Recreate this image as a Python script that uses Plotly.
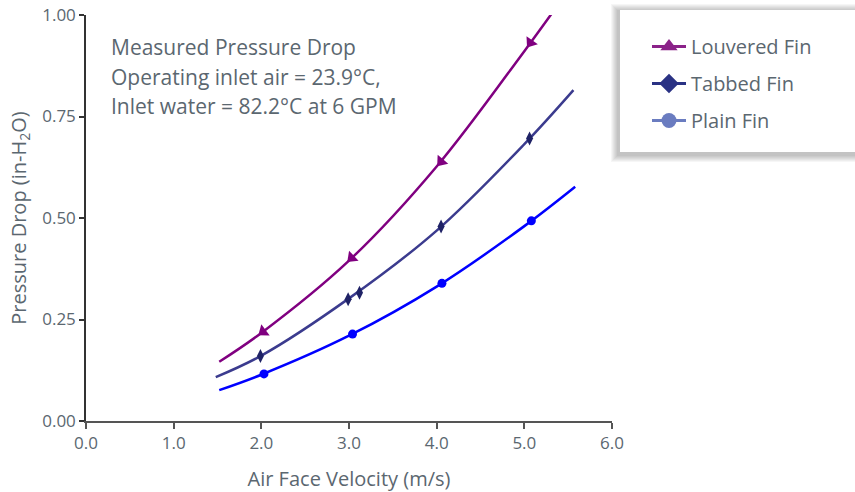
import plotly.graph_objects as go

# ---- data ----
series_names = ["Louvered Fin", "Tabbed Fin", "Plain Fin"]

# measured points (markers)
louv_x = [2.02, 3.03, 4.05, 5.07]
louv_y = [0.220, 0.402, 0.639, 0.932]
tab_x = [1.99, 2.99, 3.12, 4.05, 5.06]
tab_y = [0.160, 0.300, 0.316, 0.479, 0.696]
plain_x = [2.03, 3.04, 4.06, 5.08]
plain_y = [0.116, 0.214, 0.339, 0.493]

# fitted curves
louv_fit_x = [1.52, 2.0, 3.0, 4.0, 5.0, 5.4]
louv_fit_y = [0.146, 0.217, 0.395, 0.627, 0.911, 1.03]
tab_fit_x = [1.48, 2.0, 3.0, 4.0, 5.0, 5.56]
tab_fit_y = [0.108, 0.161, 0.302, 0.469, 0.682, 0.815]
plain_fit_x = [1.52, 2.0, 3.0, 4.0, 5.0, 5.58]
plain_fit_y = [0.076, 0.114, 0.210, 0.331, 0.480, 0.577]

x_ticks = [0, 1, 2, 3, 4, 5, 6]
y_ticks = [0, 0.25, 0.5, 0.75, 1.0]

note_lines = ["Measured Pressure Drop",
              "Operating inlet air = 23.9°C,",
              "Inlet water = 82.2°C at 6 GPM"]

# ---- layout geometry ----
W, H = 855, 492
ML, MR, MT, MB = 86, 243, 15, 71
PW, PH = W - ML - MR, H - MT - MB
FONT = "Open Sans"
TXT = "#5b6770"


def px(xp):
    return (xp - ML) / PW


def py(yp):
    return (H - MB - yp) / PH


fig = go.Figure()

line_cols = ["#800080", "#3b3b8e", "#0000ff"]
mark_cols = ["#800080", "#1f2266", "#0000ff"]
legend_cols = ["#8b2289", "#2a3284", "#6a7cc0"]

fig.add_trace(go.Scatter(x=louv_fit_x, y=louv_fit_y, mode="lines",
                         line=dict(color=line_cols[0], width=2.5, shape="spline"),
                         showlegend=False, hoverinfo="skip"))
fig.add_trace(go.Scatter(x=tab_fit_x, y=tab_fit_y, mode="lines",
                         line=dict(color=line_cols[1], width=2.5, shape="spline"),
                         showlegend=False, hoverinfo="skip"))
fig.add_trace(go.Scatter(x=plain_fit_x, y=plain_fit_y, mode="lines",
                         line=dict(color=line_cols[2], width=2.5, shape="spline"),
                         showlegend=False, hoverinfo="skip"))

fig.add_trace(go.Scatter(x=louv_x, y=louv_y, mode="markers",
                         marker=dict(symbol="triangle-up", size=12, color=mark_cols[0],
                                     angle=[233, 227, 220, 215]),
                         showlegend=False))
fig.add_trace(go.Scatter(x=tab_x, y=tab_y, mode="markers",
                         marker=dict(symbol="diamond-tall", size=10, color=mark_cols[1]),
                         showlegend=False))
fig.add_trace(go.Scatter(x=plain_x, y=plain_y, mode="markers",
                         marker=dict(symbol="circle", size=9, color=mark_cols[2]),
                         showlegend=False))

# legend entries
leg_symbols = ["triangle-up", "diamond", "circle"]
for i, name in enumerate(series_names):
    fig.add_trace(go.Scatter(x=[None], y=[None], mode="lines+markers", name=name,
                             legendgroup=name,
                             line=dict(color=legend_cols[i], width=3),
                             marker=dict(symbol=leg_symbols[i], size=15, color=legend_cols[i])))

# legend box with soft shadow
shapes = []
bx0, bx1, by0, by1 = 620, 880, 10, 152
for i in range(7, 0, -1):
    shapes.append(dict(type="rect", xref="paper", yref="paper",
                       x0=px(bx0 - 2 - i), x1=px(bx1 + i), y0=py(by1 + 3 + i), y1=py(by0 + 1 - i),
                       line=dict(width=0), fillcolor="rgba(0,0,0,0.035)", layer="above"))
shapes.append(dict(type="rect", xref="paper", yref="paper",
                   x0=px(bx0), x1=px(bx1), y0=py(by1), y1=py(by0),
                   line=dict(width=0), fillcolor="white", layer="above"))

annotations = []
for txt, yc in zip(note_lines, [47, 77, 106]):
    annotations.append(dict(text=txt, xref="paper", yref="paper", x=px(109), y=py(yc),
                            xanchor="left", yanchor="middle", showarrow=False,
                            font=dict(family=FONT, size=21, color=TXT)))

fig.update_layout(
    width=W, height=H, autosize=False,
    margin=dict(l=ML, r=MR, t=MT, b=MB, autoexpand=False),
    paper_bgcolor="white", plot_bgcolor="white",
    font=dict(family=FONT, color=TXT),
    shapes=shapes, annotations=annotations,
    legend=dict(x=px(647), y=py(27), xanchor="left", yanchor="top",
                bgcolor="rgba(0,0,0,0)", borderwidth=0,
                font=dict(family=FONT, size=20, color=TXT),
                traceorder="grouped", tracegroupgap=8, itemwidth=34),
    xaxis=dict(range=[0, 6], tickvals=x_ticks, tickformat=".1f",
               showline=True, linecolor="#555555", linewidth=1.5,
               ticks="outside", ticklen=6, tickcolor="#555555", tickwidth=1.5,
               showgrid=False, zeroline=False, automargin=False,
               tickfont=dict(family=FONT, size=17, color=TXT),
               title=dict(text="Air Face Velocity (m/s)", standoff=20,
                          font=dict(family=FONT, size=20, color=TXT))),
    yaxis=dict(range=[0, 1], tickvals=y_ticks, tickformat=".2f",
               showline=True, linecolor="#333333", linewidth=1.5,
               ticks="outside", ticklen=5, tickcolor="#333333", tickwidth=1.5,
               showgrid=False, zeroline=False, automargin=False,
               tickfont=dict(family=FONT, size=17, color=TXT),
               title=dict(text="Pressure Drop (in-H<sub>2</sub>O)", standoff=10,
                          font=dict(family=FONT, size=20, color=TXT))),
)

fig.write_html("out.html")
